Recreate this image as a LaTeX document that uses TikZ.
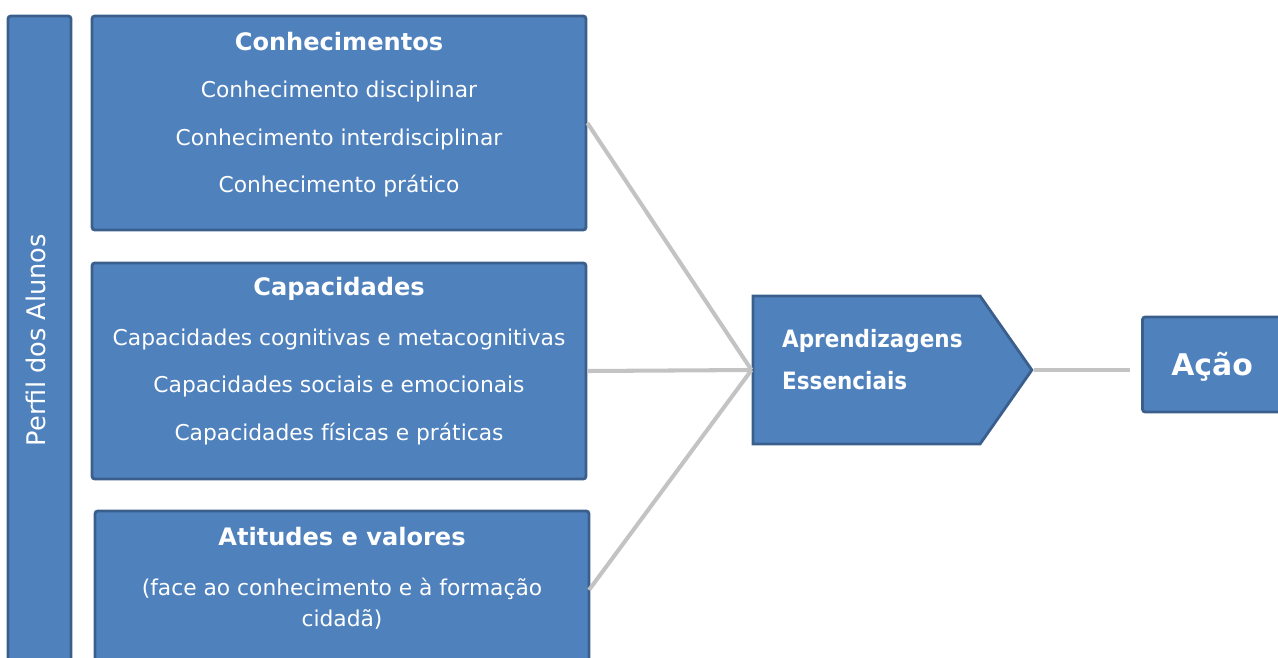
\documentclass[tikz,border=0pt]{standalone}
\usepackage{fontspec}
\setmainfont{DejaVu Sans}
\newfontfamily\condfont{DejaVu Sans Condensed}
\usetikzlibrary{positioning,shapes.symbols}
\definecolor{boxblue}{HTML}{4F81BD}
\definecolor{boxedge}{HTML}{3A5F8D}
\definecolor{linkgray}{HTML}{C3C3C3}
\tikzset{
  blk/.style={draw=boxedge, line width=1.6pt, fill=boxblue, rounded corners=1.5pt, inner sep=0pt},
  head/.style={text=white, font=\bfseries\fontsize{13.7}{16}\selectfont},
  item/.style={text=white, font=\fontsize{12.4}{17.6}\selectfont},
  link/.style={draw=linkgray, line width=2.3pt},
}

\begin{document}
\begin{tikzpicture}[x=0.02cm, y=-0.02cm]
	\useasboundingbox (0,0) rectangle (1278,657);
	% profile bar
	\node[blk, minimum width=1.26cm, minimum height=13.68cm] (perfil) at (39.5,358) {};
	\node[item, rotate=90, font=\fontsize{14.6}{16}\selectfont] (perfil-t) at (36,340) {Perfil dos Alunos};
	% knowledge
	\node[blk, minimum width=9.88cm, minimum height=4.28cm] (k) at (339,123) {};
	\node[head] (k-t) at (339,42) {Conhecimentos};
	\node[item] (k-1) at (339,91) {Conhecimento disciplinar};
	\node[item] (k-2) at (339,139) {Conhecimento interdisciplinar};
	\node[item] (k-3) at (339,186) {Conhecimento prático};
	% capacities
	\node[blk, minimum width=9.88cm, minimum height=4.32cm] (c) at (339,371) {};
	\node[head] (c-t) at (339,289) {Capacidades};
	\node[item] (c-1) at (339,339) {Capacidades cognitivas e metacognitivas};
	\node[item] (c-2) at (339,386) {Capacidades sociais e emocionais};
	\node[item] (c-3) at (339,434) {Capacidades físicas e práticas};
	% attitudes
	\node[blk, minimum width=9.88cm, minimum height=3.78cm] (a) at (342,605.5) {};
	\node[head] (a-t) at (342,537) {Atitudes e valores};
	\node[item, align=center] (a-1) at (342,603.5) {(face ao conhecimento e à formação\\cidadã)};
	\coordinate (a-out) at (589,590);
	% essential learning
	\node[blk, rounded corners=0pt, signal, signal to=east, signal pointer angle=110,
	      minimum width=5.58cm, minimum height=2.96cm] (ae) at (866.5,370) {};
	\node[text=white, align=left, anchor=west, font=\condfont\bfseries\fontsize{13.6}{24.2}\selectfont] (ae-t) at (776,359.5) {Aprendizagens\\Essenciais};
	% action
	\node[blk, minimum width=2.94cm, minimum height=1.9cm] (ac) at (1216,364.5) {};
	\node[head, font=\bfseries\fontsize{17}{19}\selectfont] (ac-t) at (1212,367) {Ação};

	\draw[link] (k.east) -- (ae.west);
	\draw[link] (c.east) -- (ae.west);
	\draw[link] (a-out) -- (ae.west);
	\draw[link, shorten >=0.22cm] (ae.east) -- (ae.east -| ac.west);
\end{tikzpicture}
\end{document}
